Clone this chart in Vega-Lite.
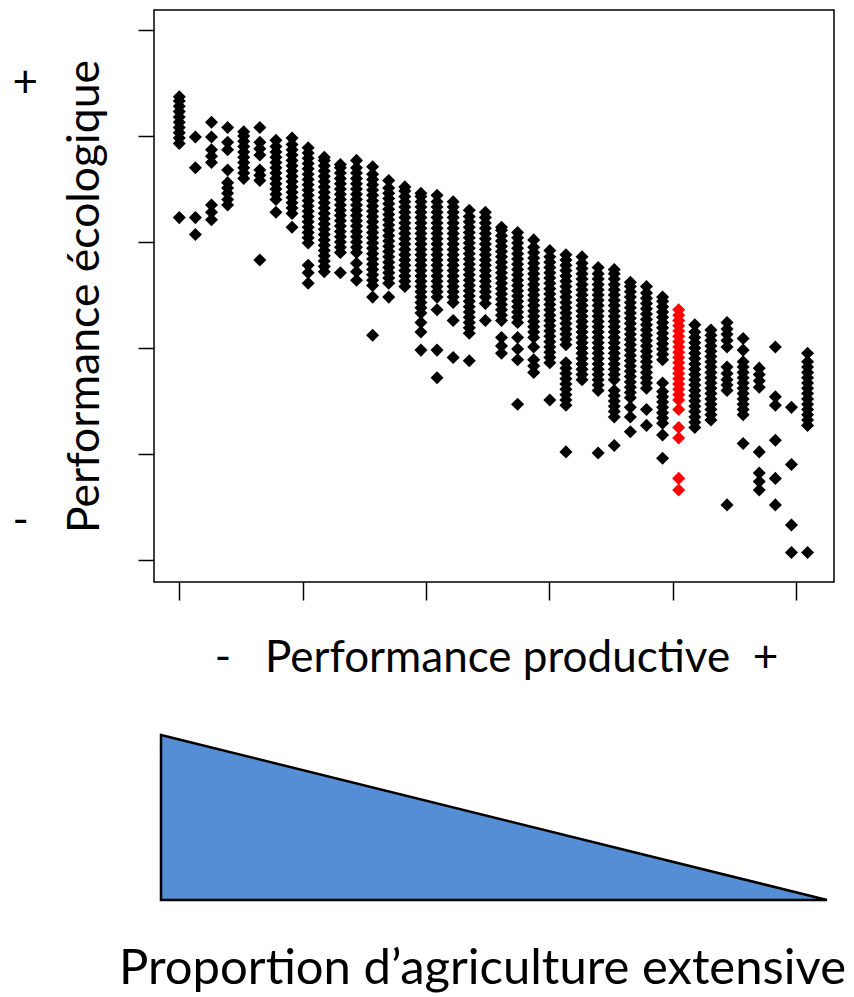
{
  "$schema": "https://vega.github.io/schema/vega-lite/v6.json",
  "padding": {"left": 11, "top": 7, "right": 5, "bottom": 0},
  "bounds": "flush",
  "spacing": 153,
  "config": {
    "view": {"stroke": "#000000", "strokeWidth": 1.5},
    "axis": {"grid": false, "domain": false, "labelFont": "Lato", "titleFont": "Lato", "titleFontWeight": "normal", "titleColor": "#000000", "labelColor": "#000000", "tickColor": "#000000"}
  },
  "datasets": {
    "pts": [
      {"c":0,"y":3.93},{"c":0,"y":3.98},{"c":0,"y":4.03},{"c":0,"y":4.08},{"c":0,"y":4.13},{"c":0,"y":4.18},{"c":0,"y":4.23},{"c":0,"y":4.28},{"c":0,"y":4.33},{"c":0,"y":4.37},{"c":0,"y":3.23},
      {"c":1,"y":3.99},{"c":1,"y":3.70},{"c":1,"y":3.23},{"c":1,"y":3.07},
      {"c":2,"y":4.13},{"c":2,"y":3.99},{"c":2,"y":3.87},{"c":2,"y":3.81},{"c":2,"y":3.75},{"c":2,"y":3.35},{"c":2,"y":3.28},{"c":2,"y":3.21},
      {"c":3,"y":4.08},{"c":3,"y":3.94},{"c":3,"y":3.87},{"c":3,"y":3.68},{"c":3,"y":3.56},{"c":3,"y":3.51},{"c":3,"y":3.46},{"c":3,"y":3.40},{"c":3,"y":3.35},
      {"c":4,"y":3.60},{"c":4,"y":3.65},{"c":4,"y":3.70},{"c":4,"y":3.75},{"c":4,"y":3.80},{"c":4,"y":3.85},{"c":4,"y":3.90},{"c":4,"y":3.95},{"c":4,"y":4.00},{"c":4,"y":4.04},
      {"c":5,"y":4.08},{"c":5,"y":3.94},{"c":5,"y":3.88},{"c":5,"y":3.82},{"c":5,"y":3.68},{"c":5,"y":3.63},{"c":5,"y":3.58},{"c":5,"y":2.83},
      {"c":6,"y":3.40},{"c":6,"y":3.45},{"c":6,"y":3.50},{"c":6,"y":3.55},{"c":6,"y":3.60},{"c":6,"y":3.65},{"c":6,"y":3.70},{"c":6,"y":3.75},{"c":6,"y":3.80},{"c":6,"y":3.85},{"c":6,"y":3.90},{"c":6,"y":3.96},{"c":6,"y":3.28},
      {"c":7,"y":3.27},{"c":7,"y":3.32},{"c":7,"y":3.37},{"c":7,"y":3.42},{"c":7,"y":3.47},{"c":7,"y":3.52},{"c":7,"y":3.57},{"c":7,"y":3.62},{"c":7,"y":3.67},{"c":7,"y":3.72},{"c":7,"y":3.77},{"c":7,"y":3.82},{"c":7,"y":3.87},{"c":7,"y":3.92},{"c":7,"y":3.98},{"c":7,"y":3.14},
      {"c":8,"y":2.99},{"c":8,"y":3.04},{"c":8,"y":3.09},{"c":8,"y":3.14},{"c":8,"y":3.19},{"c":8,"y":3.24},{"c":8,"y":3.29},{"c":8,"y":3.34},{"c":8,"y":3.39},{"c":8,"y":3.44},{"c":8,"y":3.49},{"c":8,"y":3.54},{"c":8,"y":3.59},{"c":8,"y":3.64},{"c":8,"y":3.69},{"c":8,"y":3.74},{"c":8,"y":3.79},{"c":8,"y":3.84},{"c":8,"y":3.89},{"c":8,"y":2.78},{"c":8,"y":2.71},{"c":8,"y":2.61},
      {"c":9,"y":2.72},{"c":9,"y":2.77},{"c":9,"y":2.82},{"c":9,"y":2.87},{"c":9,"y":2.92},{"c":9,"y":2.97},{"c":9,"y":3.02},{"c":9,"y":3.07},{"c":9,"y":3.12},{"c":9,"y":3.17},{"c":9,"y":3.22},{"c":9,"y":3.27},{"c":9,"y":3.32},{"c":9,"y":3.37},{"c":9,"y":3.42},{"c":9,"y":3.47},{"c":9,"y":3.52},{"c":9,"y":3.57},{"c":9,"y":3.62},{"c":9,"y":3.67},{"c":9,"y":3.72},{"c":9,"y":3.77},{"c":9,"y":3.80},
      {"c":10,"y":2.90},{"c":10,"y":2.95},{"c":10,"y":3.00},{"c":10,"y":3.05},{"c":10,"y":3.10},{"c":10,"y":3.15},{"c":10,"y":3.20},{"c":10,"y":3.25},{"c":10,"y":3.30},{"c":10,"y":3.35},{"c":10,"y":3.40},{"c":10,"y":3.45},{"c":10,"y":3.50},{"c":10,"y":3.55},{"c":10,"y":3.60},{"c":10,"y":3.65},{"c":10,"y":3.70},{"c":10,"y":3.73},{"c":10,"y":2.71},
      {"c":11,"y":2.90},{"c":11,"y":2.95},{"c":11,"y":3.00},{"c":11,"y":3.05},{"c":11,"y":3.10},{"c":11,"y":3.15},{"c":11,"y":3.20},{"c":11,"y":3.25},{"c":11,"y":3.30},{"c":11,"y":3.35},{"c":11,"y":3.40},{"c":11,"y":3.45},{"c":11,"y":3.50},{"c":11,"y":3.55},{"c":11,"y":3.60},{"c":11,"y":3.65},{"c":11,"y":3.70},{"c":11,"y":3.77},{"c":11,"y":2.80},{"c":11,"y":2.72},{"c":11,"y":2.64},
      {"c":12,"y":2.59},{"c":12,"y":2.64},{"c":12,"y":2.69},{"c":12,"y":2.74},{"c":12,"y":2.79},{"c":12,"y":2.84},{"c":12,"y":2.89},{"c":12,"y":2.94},{"c":12,"y":2.99},{"c":12,"y":3.04},{"c":12,"y":3.09},{"c":12,"y":3.14},{"c":12,"y":3.19},{"c":12,"y":3.24},{"c":12,"y":3.29},{"c":12,"y":3.34},{"c":12,"y":3.39},{"c":12,"y":3.44},{"c":12,"y":3.49},{"c":12,"y":3.54},{"c":12,"y":3.59},{"c":12,"y":3.64},{"c":12,"y":3.71},{"c":12,"y":2.48},{"c":12,"y":2.12},
      {"c":13,"y":2.61},{"c":13,"y":2.66},{"c":13,"y":2.71},{"c":13,"y":2.76},{"c":13,"y":2.81},{"c":13,"y":2.86},{"c":13,"y":2.91},{"c":13,"y":2.96},{"c":13,"y":3.01},{"c":13,"y":3.06},{"c":13,"y":3.11},{"c":13,"y":3.16},{"c":13,"y":3.21},{"c":13,"y":3.26},{"c":13,"y":3.31},{"c":13,"y":3.36},{"c":13,"y":3.41},{"c":13,"y":3.46},{"c":13,"y":3.51},{"c":13,"y":3.58},{"c":13,"y":2.48},
      {"c":14,"y":2.58},{"c":14,"y":2.63},{"c":14,"y":2.68},{"c":14,"y":2.73},{"c":14,"y":2.78},{"c":14,"y":2.83},{"c":14,"y":2.88},{"c":14,"y":2.93},{"c":14,"y":2.98},{"c":14,"y":3.03},{"c":14,"y":3.08},{"c":14,"y":3.13},{"c":14,"y":3.18},{"c":14,"y":3.23},{"c":14,"y":3.28},{"c":14,"y":3.33},{"c":14,"y":3.38},{"c":14,"y":3.43},{"c":14,"y":3.48},{"c":14,"y":3.52},
      {"c":15,"y":2.33},{"c":15,"y":2.38},{"c":15,"y":2.43},{"c":15,"y":2.48},{"c":15,"y":2.53},{"c":15,"y":2.58},{"c":15,"y":2.63},{"c":15,"y":2.68},{"c":15,"y":2.73},{"c":15,"y":2.78},{"c":15,"y":2.83},{"c":15,"y":2.88},{"c":15,"y":2.93},{"c":15,"y":2.98},{"c":15,"y":3.03},{"c":15,"y":3.08},{"c":15,"y":3.13},{"c":15,"y":3.18},{"c":15,"y":3.23},{"c":15,"y":3.28},{"c":15,"y":3.33},{"c":15,"y":3.38},{"c":15,"y":3.43},{"c":15,"y":3.46},{"c":15,"y":2.24},{"c":15,"y":2.15},{"c":15,"y":1.98},
      {"c":16,"y":2.48},{"c":16,"y":2.53},{"c":16,"y":2.58},{"c":16,"y":2.63},{"c":16,"y":2.68},{"c":16,"y":2.73},{"c":16,"y":2.78},{"c":16,"y":2.83},{"c":16,"y":2.88},{"c":16,"y":2.93},{"c":16,"y":2.98},{"c":16,"y":3.03},{"c":16,"y":3.08},{"c":16,"y":3.13},{"c":16,"y":3.18},{"c":16,"y":3.23},{"c":16,"y":3.28},{"c":16,"y":3.33},{"c":16,"y":3.38},{"c":16,"y":3.44},{"c":16,"y":2.36},{"c":16,"y":1.98},{"c":16,"y":1.72},
      {"c":17,"y":2.43},{"c":17,"y":2.48},{"c":17,"y":2.53},{"c":17,"y":2.58},{"c":17,"y":2.63},{"c":17,"y":2.68},{"c":17,"y":2.73},{"c":17,"y":2.78},{"c":17,"y":2.83},{"c":17,"y":2.88},{"c":17,"y":2.93},{"c":17,"y":2.98},{"c":17,"y":3.03},{"c":17,"y":3.08},{"c":17,"y":3.13},{"c":17,"y":3.18},{"c":17,"y":3.23},{"c":17,"y":3.28},{"c":17,"y":3.33},{"c":17,"y":3.38},{"c":17,"y":2.26},{"c":17,"y":1.91},
      {"c":18,"y":2.14},{"c":18,"y":2.19},{"c":18,"y":2.24},{"c":18,"y":2.29},{"c":18,"y":2.34},{"c":18,"y":2.39},{"c":18,"y":2.44},{"c":18,"y":2.49},{"c":18,"y":2.54},{"c":18,"y":2.59},{"c":18,"y":2.64},{"c":18,"y":2.69},{"c":18,"y":2.74},{"c":18,"y":2.79},{"c":18,"y":2.84},{"c":18,"y":2.89},{"c":18,"y":2.94},{"c":18,"y":2.99},{"c":18,"y":3.04},{"c":18,"y":3.09},{"c":18,"y":3.14},{"c":18,"y":3.19},{"c":18,"y":3.24},{"c":18,"y":3.30},{"c":18,"y":1.88},
      {"c":19,"y":2.48},{"c":19,"y":2.53},{"c":19,"y":2.58},{"c":19,"y":2.63},{"c":19,"y":2.68},{"c":19,"y":2.73},{"c":19,"y":2.78},{"c":19,"y":2.83},{"c":19,"y":2.88},{"c":19,"y":2.93},{"c":19,"y":2.98},{"c":19,"y":3.03},{"c":19,"y":3.08},{"c":19,"y":3.13},{"c":19,"y":3.18},{"c":19,"y":3.23},{"c":19,"y":3.28},{"c":19,"y":2.42},{"c":19,"y":2.26},
      {"c":20,"y":2.26},{"c":20,"y":2.31},{"c":20,"y":2.36},{"c":20,"y":2.41},{"c":20,"y":2.46},{"c":20,"y":2.51},{"c":20,"y":2.56},{"c":20,"y":2.61},{"c":20,"y":2.66},{"c":20,"y":2.71},{"c":20,"y":2.76},{"c":20,"y":2.81},{"c":20,"y":2.86},{"c":20,"y":2.91},{"c":20,"y":2.96},{"c":20,"y":3.01},{"c":20,"y":3.06},{"c":20,"y":3.11},{"c":20,"y":3.14},{"c":20,"y":2.10},{"c":20,"y":2.02},{"c":20,"y":1.95},
      {"c":21,"y":2.24},{"c":21,"y":2.29},{"c":21,"y":2.34},{"c":21,"y":2.39},{"c":21,"y":2.44},{"c":21,"y":2.49},{"c":21,"y":2.54},{"c":21,"y":2.59},{"c":21,"y":2.64},{"c":21,"y":2.69},{"c":21,"y":2.74},{"c":21,"y":2.79},{"c":21,"y":2.84},{"c":21,"y":2.89},{"c":21,"y":2.94},{"c":21,"y":2.99},{"c":21,"y":3.04},{"c":21,"y":3.09},{"c":21,"y":2.10},{"c":21,"y":1.99},{"c":21,"y":1.89},{"c":21,"y":1.47},
      {"c":22,"y":2.10},{"c":22,"y":2.15},{"c":22,"y":2.20},{"c":22,"y":2.25},{"c":22,"y":2.30},{"c":22,"y":2.35},{"c":22,"y":2.40},{"c":22,"y":2.45},{"c":22,"y":2.50},{"c":22,"y":2.55},{"c":22,"y":2.60},{"c":22,"y":2.65},{"c":22,"y":2.70},{"c":22,"y":2.75},{"c":22,"y":2.80},{"c":22,"y":2.85},{"c":22,"y":2.90},{"c":22,"y":2.95},{"c":22,"y":3.02},{"c":22,"y":2.01},{"c":22,"y":1.89},{"c":22,"y":1.83},{"c":22,"y":1.77},
      {"c":23,"y":1.86},{"c":23,"y":1.91},{"c":23,"y":1.96},{"c":23,"y":2.01},{"c":23,"y":2.06},{"c":23,"y":2.11},{"c":23,"y":2.16},{"c":23,"y":2.21},{"c":23,"y":2.26},{"c":23,"y":2.31},{"c":23,"y":2.36},{"c":23,"y":2.41},{"c":23,"y":2.46},{"c":23,"y":2.51},{"c":23,"y":2.56},{"c":23,"y":2.61},{"c":23,"y":2.66},{"c":23,"y":2.71},{"c":23,"y":2.76},{"c":23,"y":2.81},{"c":23,"y":2.86},{"c":23,"y":2.92},{"c":23,"y":1.51},
      {"c":24,"y":1.46},{"c":24,"y":1.51},{"c":24,"y":1.56},{"c":24,"y":1.61},{"c":24,"y":1.66},{"c":24,"y":1.71},{"c":24,"y":1.76},{"c":24,"y":1.81},{"c":24,"y":1.86},{"c":24,"y":2.03},{"c":24,"y":2.08},{"c":24,"y":2.13},{"c":24,"y":2.18},{"c":24,"y":2.23},{"c":24,"y":2.28},{"c":24,"y":2.33},{"c":24,"y":2.38},{"c":24,"y":2.43},{"c":24,"y":2.48},{"c":24,"y":2.53},{"c":24,"y":2.58},{"c":24,"y":2.63},{"c":24,"y":2.68},{"c":24,"y":2.73},{"c":24,"y":2.78},{"c":24,"y":2.83},{"c":24,"y":2.88},{"c":24,"y":1.02},
      {"c":25,"y":1.70},{"c":25,"y":1.75},{"c":25,"y":1.80},{"c":25,"y":1.85},{"c":25,"y":1.90},{"c":25,"y":1.95},{"c":25,"y":2.00},{"c":25,"y":2.05},{"c":25,"y":2.10},{"c":25,"y":2.15},{"c":25,"y":2.20},{"c":25,"y":2.25},{"c":25,"y":2.30},{"c":25,"y":2.35},{"c":25,"y":2.40},{"c":25,"y":2.45},{"c":25,"y":2.50},{"c":25,"y":2.55},{"c":25,"y":2.60},{"c":25,"y":2.65},{"c":25,"y":2.70},{"c":25,"y":2.75},{"c":25,"y":2.80},{"c":25,"y":2.86},
      {"c":26,"y":1.60},{"c":26,"y":1.65},{"c":26,"y":1.70},{"c":26,"y":1.75},{"c":26,"y":1.80},{"c":26,"y":1.85},{"c":26,"y":1.90},{"c":26,"y":1.95},{"c":26,"y":2.00},{"c":26,"y":2.05},{"c":26,"y":2.10},{"c":26,"y":2.15},{"c":26,"y":2.20},{"c":26,"y":2.25},{"c":26,"y":2.30},{"c":26,"y":2.35},{"c":26,"y":2.40},{"c":26,"y":2.45},{"c":26,"y":2.50},{"c":26,"y":2.55},{"c":26,"y":2.60},{"c":26,"y":2.65},{"c":26,"y":2.70},{"c":26,"y":2.76},{"c":26,"y":1.01},
      {"c":27,"y":1.35},{"c":27,"y":1.40},{"c":27,"y":1.45},{"c":27,"y":1.50},{"c":27,"y":1.55},{"c":27,"y":1.60},{"c":27,"y":1.70},{"c":27,"y":1.75},{"c":27,"y":1.80},{"c":27,"y":1.85},{"c":27,"y":1.90},{"c":27,"y":1.95},{"c":27,"y":2.00},{"c":27,"y":2.05},{"c":27,"y":2.10},{"c":27,"y":2.15},{"c":27,"y":2.20},{"c":27,"y":2.25},{"c":27,"y":2.30},{"c":27,"y":2.35},{"c":27,"y":2.40},{"c":27,"y":2.45},{"c":27,"y":2.50},{"c":27,"y":2.55},{"c":27,"y":2.60},{"c":27,"y":2.65},{"c":27,"y":2.70},{"c":27,"y":2.74},{"c":27,"y":1.08},
      {"c":28,"y":1.53},{"c":28,"y":1.58},{"c":28,"y":1.63},{"c":28,"y":1.68},{"c":28,"y":1.73},{"c":28,"y":1.78},{"c":28,"y":1.83},{"c":28,"y":1.88},{"c":28,"y":1.93},{"c":28,"y":1.98},{"c":28,"y":2.03},{"c":28,"y":2.08},{"c":28,"y":2.13},{"c":28,"y":2.18},{"c":28,"y":2.23},{"c":28,"y":2.28},{"c":28,"y":2.33},{"c":28,"y":2.38},{"c":28,"y":2.43},{"c":28,"y":2.48},{"c":28,"y":2.53},{"c":28,"y":2.58},{"c":28,"y":2.62},{"c":28,"y":1.44},{"c":28,"y":1.35},{"c":28,"y":1.21},
      {"c":29,"y":1.62},{"c":29,"y":1.67},{"c":29,"y":1.72},{"c":29,"y":1.77},{"c":29,"y":1.82},{"c":29,"y":1.87},{"c":29,"y":1.92},{"c":29,"y":1.97},{"c":29,"y":2.02},{"c":29,"y":2.07},{"c":29,"y":2.12},{"c":29,"y":2.17},{"c":29,"y":2.22},{"c":29,"y":2.27},{"c":29,"y":2.32},{"c":29,"y":2.37},{"c":29,"y":2.42},{"c":29,"y":2.47},{"c":29,"y":2.52},{"c":29,"y":2.58},{"c":29,"y":1.42},{"c":29,"y":1.27},
      {"c":30,"y":1.29},{"c":30,"y":1.34},{"c":30,"y":1.39},{"c":30,"y":1.44},{"c":30,"y":1.49},{"c":30,"y":1.54},{"c":30,"y":1.59},{"c":30,"y":1.67},{"c":30,"y":1.89},{"c":30,"y":1.94},{"c":30,"y":1.99},{"c":30,"y":2.04},{"c":30,"y":2.09},{"c":30,"y":2.14},{"c":30,"y":2.19},{"c":30,"y":2.24},{"c":30,"y":2.29},{"c":30,"y":2.34},{"c":30,"y":2.39},{"c":30,"y":2.44},{"c":30,"y":2.48},{"c":30,"y":1.18},{"c":30,"y":0.96},
      {"c":31,"y":1.51},{"c":31,"y":1.56},{"c":31,"y":1.61},{"c":31,"y":1.66},{"c":31,"y":1.71},{"c":31,"y":1.76},{"c":31,"y":1.81},{"c":31,"y":1.86},{"c":31,"y":1.91},{"c":31,"y":1.96},{"c":31,"y":2.01},{"c":31,"y":2.06},{"c":31,"y":2.11},{"c":31,"y":2.16},{"c":31,"y":2.21},{"c":31,"y":2.26},{"c":31,"y":2.31},{"c":31,"y":2.36},{"c":31,"y":1.42},{"c":31,"y":1.25},{"c":31,"y":1.15},{"c":31,"y":0.77},{"c":31,"y":0.66},
      {"c":32,"y":1.25},{"c":32,"y":1.30},{"c":32,"y":1.35},{"c":32,"y":1.40},{"c":32,"y":1.45},{"c":32,"y":1.50},{"c":32,"y":1.55},{"c":32,"y":1.60},{"c":32,"y":1.65},{"c":32,"y":1.70},{"c":32,"y":1.75},{"c":32,"y":1.80},{"c":32,"y":1.85},{"c":32,"y":1.90},{"c":32,"y":1.95},{"c":32,"y":2.00},{"c":32,"y":2.05},{"c":32,"y":2.10},{"c":32,"y":2.15},{"c":32,"y":2.22},
      {"c":33,"y":1.32},{"c":33,"y":1.37},{"c":33,"y":1.42},{"c":33,"y":1.47},{"c":33,"y":1.52},{"c":33,"y":1.57},{"c":33,"y":1.62},{"c":33,"y":1.67},{"c":33,"y":1.72},{"c":33,"y":1.77},{"c":33,"y":1.82},{"c":33,"y":1.87},{"c":33,"y":1.92},{"c":33,"y":1.97},{"c":33,"y":2.02},{"c":33,"y":2.07},{"c":33,"y":2.12},{"c":33,"y":2.17},
      {"c":34,"y":1.60},{"c":34,"y":1.65},{"c":34,"y":1.70},{"c":34,"y":1.76},{"c":34,"y":1.82},{"c":34,"y":2.01},{"c":34,"y":2.07},{"c":34,"y":2.13},{"c":34,"y":2.18},{"c":34,"y":2.24},{"c":34,"y":0.52},
      {"c":35,"y":1.37},{"c":35,"y":1.42},{"c":35,"y":1.47},{"c":35,"y":1.52},{"c":35,"y":1.57},{"c":35,"y":1.62},{"c":35,"y":1.67},{"c":35,"y":1.72},{"c":35,"y":1.77},{"c":35,"y":1.82},{"c":35,"y":1.87},{"c":35,"y":1.98},{"c":35,"y":2.09},{"c":35,"y":1.10},
      {"c":36,"y":1.63},{"c":36,"y":1.69},{"c":36,"y":1.75},{"c":36,"y":1.81},{"c":36,"y":1.02},{"c":36,"y":0.82},{"c":36,"y":0.74},{"c":36,"y":0.66},
      {"c":37,"y":2.01},{"c":37,"y":1.54},{"c":37,"y":1.46},{"c":37,"y":1.13},{"c":37,"y":0.77},{"c":37,"y":0.52},
      {"c":38,"y":1.44},{"c":38,"y":0.90},{"c":38,"y":0.33},{"c":38,"y":0.07},
      {"c":39,"y":1.27},{"c":39,"y":1.32},{"c":39,"y":1.37},{"c":39,"y":1.42},{"c":39,"y":1.47},{"c":39,"y":1.52},{"c":39,"y":1.57},{"c":39,"y":1.62},{"c":39,"y":1.67},{"c":39,"y":1.72},{"c":39,"y":1.77},{"c":39,"y":1.82},{"c":39,"y":1.87},{"c":39,"y":1.95},{"c":39,"y":0.07}
    ],
    "tri": [
      {"p":0,"v":1},
      {"p":1,"v":0}
    ]
  },
  "vconcat": [
    {
      "width": 680,
      "height": 572,
      "data": {"name": "pts"},
      "mark": {"type": "point", "shape": "diamond", "filled": true, "size": 170, "opacity": 1, "strokeWidth": 0},
      "encoding": {
        "x": {
          "field": "c", "type": "quantitative",
          "scale": {"domain": [-1.57, 40.64], "nice": false, "zero": false},
          "axis": {
            "values": [0, 7.66, 15.32, 22.98, 30.64, 38.3],
            "labels": false, "tickSize": 18, "tickWidth": 1.5,
            "title": "-\u00a0\u00a0\u00a0Performance productive\u00a0\u00a0+",
            "titleFontSize": 44, "titleX": 342, "titleY": 89,
            "titleAlign": "center", "titleBaseline": "alphabetic", "titleAnchor": null
          }
        },
        "y": {
          "field": "y", "type": "quantitative",
          "scale": {"domain": [-0.2075, 5.1887], "nice": false, "zero": false},
          "axis": {
            "values": [0, 1, 2, 3, 4, 5, 4.5, 0.36],
            "labelExpr": "datum.value == 4.5 ? '+' : (datum.value == 0.36 ? '-' : '')",
            "tickSize": 16, "tickWidth": 1.5,
            "tickOpacity": {"condition": {"test": "datum.value == 4.5 || datum.value == 0.36", "value": 0}, "value": 1},
            "labelFontSize": 44, "labelAlign": "left", "labelPadding": 126,
            "labelOverlap": false, "labelFlush": false, "labelBound": false,
            "title": "Performance écologique",
            "titleFontSize": 44.5, "titleX": -56, "titleY": 286, "titleAngle": -90,
            "titleAlign": "center", "titleBaseline": "alphabetic", "titleAnchor": null
          }
        },
        "color": {"condition": {"test": "datum.c == 31", "value": "#FF0000"}, "value": "#000000"}
      }
    },
    {
      "width": 680,
      "height": 165,
      "view": {"stroke": null},
      "data": {"name": "tri"},
      "mark": {"type": "area", "color": "#558ED5", "stroke": "#000000", "strokeWidth": 2.5, "opacity": 1},
      "encoding": {
        "x": {
          "field": "p", "type": "quantitative",
          "scale": {"domain": [-0.0105, 1.0105], "nice": false, "zero": false},
          "axis": {
            "domain": false, "ticks": false, "labels": false,
            "title": "Proportion d’agriculture extensive",
            "titleFontSize": 49, "titleX": 328, "titleY": 83,
            "titleAlign": "center", "titleBaseline": "alphabetic", "titleAnchor": null
          }
        },
        "y": {
          "field": "v", "type": "quantitative",
          "scale": {"domain": [0, 1], "nice": false},
          "axis": null
        }
      }
    }
  ]
}
